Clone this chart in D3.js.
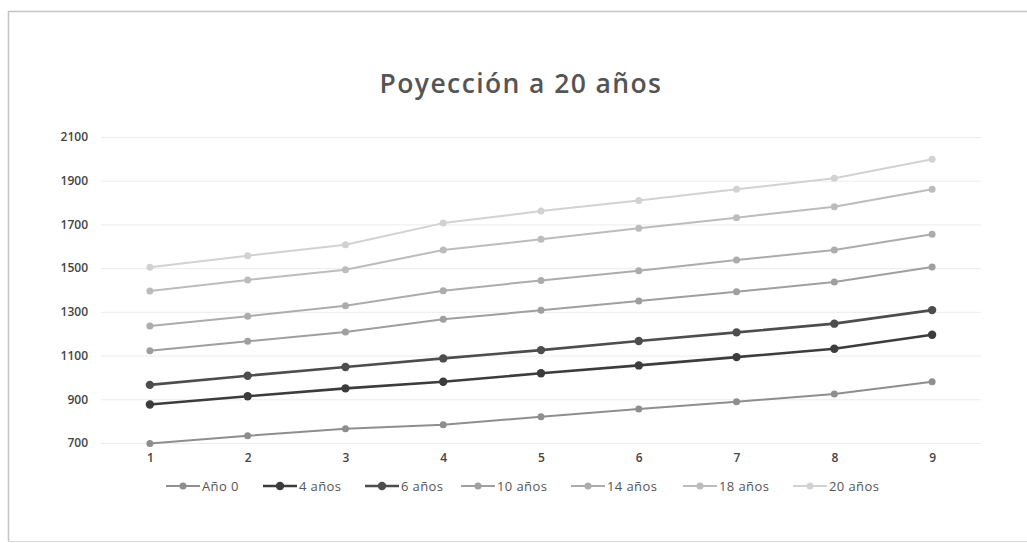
<!DOCTYPE html>
<html><head><meta charset="utf-8">
<script src="https://cdn.jsdelivr.net/npm/d3@7"></script>
<style>
html,body{margin:0;padding:0;background:#fff;}
svg text{font-family:"Open Sans","Noto Sans",sans-serif;}
</style></head>
<body>
<svg id="chart" width="1027" height="543"></svg>
<script>
const categories = [1,2,3,4,5,6,7,8,9];
const yTicks = [700,900,1100,1300,1500,1700,1900,2100];
const seriesNames = ["Año 0","4 años","6 años","10 años","14 años","18 años","20 años"];
const anio0   = [698,733,765,784,820,855,889,924,980];
const anios4  = [876,914,950,980,1019,1055,1093,1131,1195];
const anios6  = [966,1008,1048,1087,1125,1167,1206,1246,1308];
const anios10 = [1122,1165,1208,1266,1307,1350,1392,1437,1505];
const anios14 = [1235,1280,1328,1397,1444,1488,1537,1583,1655];
const anios18 = [1395,1446,1493,1583,1632,1682,1731,1781,1861];
const anios20 = [1504,1557,1607,1706,1761,1810,1861,1911,1998];
const seriesValues = [anio0,anios4,anios6,anios10,anios14,anios18,anios20];
const colors = ["#8e8e8e","#3c3c3c","#4d4d4d","#9f9f9f","#acacac","#bcbcbc","#d2d2d2"];
const widths = [2,2.6,2.6,2,2,2,2];
const radii = [3.5,4.2,4.2,3.5,3.5,3.5,3.5];

const svg = d3.select("#chart");
// frame
svg.append("path").attr("d","M8.5,541 L8.5,11.5 L1027,11.5")
  .attr("fill","none").attr("stroke","#c4c4c4").attr("stroke-width",1.5);
svg.append("line").attr("x1",8).attr("x2",1027).attr("y1",541.5).attr("y2",541.5)
  .attr("stroke","#d6d6d6").attr("stroke-width",1);

const x = d3.scalePoint().domain(categories).range([101,981]).padding(0.5);
const y = d3.scaleLinear().domain([700,2100]).range([443,137]);

// title
svg.append("text").attr("x",521).attr("y",93).attr("text-anchor","middle")
  .attr("font-size",26.5).attr("font-weight",600).attr("fill","#555")
  .attr("letter-spacing",1.4)
  .text("Poyección a 20 años");

// gridlines
svg.append("g").selectAll("line").data(yTicks).join("line")
  .attr("x1",101).attr("x2",981).attr("y1",d=>y(d)+0.5).attr("y2",d=>y(d)+0.5)
  .attr("stroke","#ececec").attr("stroke-width",1);

// y axis
const yAxis = svg.append("g").attr("transform","translate(96,0)")
  .call(d3.axisLeft(y).tickValues(yTicks).tickFormat(d3.format("d")).tickSize(0).tickPadding(8));
yAxis.select(".domain").remove();
yAxis.selectAll("text").attr("font-size",12).attr("fill","#444").attr("font-weight",600)
  .style("font-family","'Open Sans',sans-serif");

// x axis
const xAxis = svg.append("g").attr("transform","translate(0,449)")
  .call(d3.axisBottom(x).tickSize(0).tickPadding(4));
xAxis.select(".domain").remove();
xAxis.selectAll("text").attr("font-size",12).attr("fill","#444").attr("font-weight",600)
  .style("font-family","'Open Sans',sans-serif");

// lines
const line = d3.line().x((d,i)=>x(categories[i])).y(d=>y(d));
seriesValues.forEach((vals,k)=>{
  const g = svg.append("g");
  g.append("path").datum(vals).attr("d",line).attr("fill","none")
    .attr("stroke",colors[k]).attr("stroke-width",widths[k]).attr("stroke-linejoin","round");
  g.selectAll("circle").data(vals).join("circle")
    .attr("cx",(d,i)=>x(categories[i])).attr("cy",d=>y(d)).attr("r",radii[k])
    .attr("fill",colors[k]);
});

// legend
const legendX = [166,263,365,461,571,683,793];
const leg = svg.append("g").attr("transform","translate(0,486)");
seriesNames.forEach((name,k)=>{
  const gx = legendX[k];
  leg.append("line").attr("x1",gx).attr("x2",gx+34).attr("y1",0).attr("y2",0)
    .attr("stroke",colors[k]).attr("stroke-width",widths[k]);
  leg.append("circle").attr("cx",gx+17).attr("cy",0).attr("r",radii[k]).attr("fill",colors[k]);
  leg.append("text").attr("x",gx+36).attr("y",4.5).attr("font-size",13).attr("fill","#555")
    .attr("letter-spacing",0.4)
    .text(name);
});
</script>
</body></html>
